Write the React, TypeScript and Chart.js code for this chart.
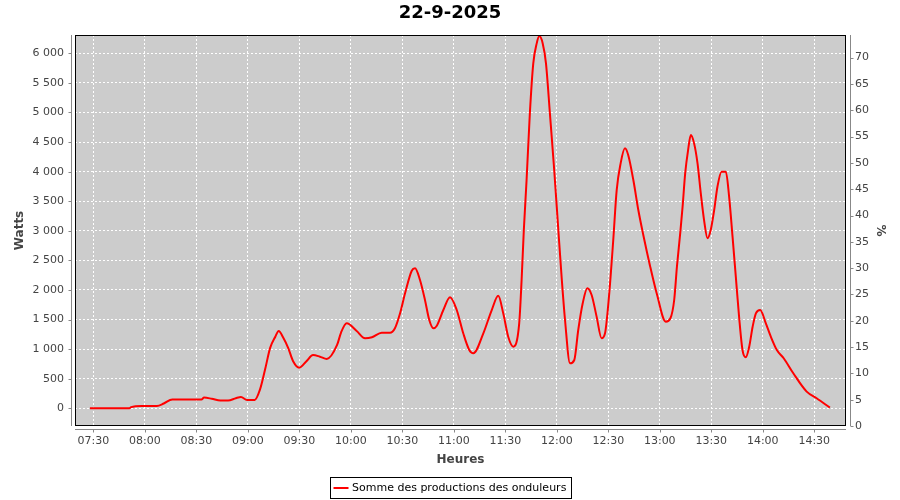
import React, { useEffect, useRef } from "react";
import { Chart, registerables } from "chart.js";

Chart.register(...registerables);

const TITLE = "22-9-2025";
const SERIES_LABEL = "Somme des productions des onduleurs";
const X_TITLE = "Heures";
const Y_TITLE = "Watts";
const Y2_TITLE = "%";

// time of day, in minutes since midnight
const timesMin = [
  448, 471, 472, 478, 487, 491, 496, 513, 514.5, 519, 524, 528.5, 533, 536, 539.5, 544,
  547, 550, 553, 556, 558, 560.5, 563.6, 566.3, 570, 574, 578, 582, 586, 592, 594.3, 597.6,
  603.4, 608.3, 612.3, 618, 622.8, 625.7, 628.7, 631.6, 635.5, 637.4, 640.3, 643.2, 645.7, 648.1,
  650, 653.9, 657.8, 661.7, 665.5, 669, 671.4, 677.2, 682.1, 685.9, 688.8, 691.7, 694.7, 698.1,
  699.5, 700.8, 702.4, 704.3, 706.3, 708.3, 709.8, 711.8, 713.7, 716, 718.5, 720.9, 722.8, 724.8,
  727.7, 730.2, 732.5, 735.1, 737.8, 740.3, 743.2, 746.1, 748.1, 750.4, 752.9, 754.9, 757.2, 759.7,
  761.6, 764.6, 767.5, 770.4, 774.3, 778.2, 783.5, 786.2, 788.4, 790, 791.9, 793.3, 794.8, 796.5,
  798.1, 800, 802, 803.9, 805.8, 807.8, 809.7, 811.7, 813.6, 816, 818.5, 820.4, 822.4, 824.3,
  826.2, 828.2, 830.1, 832.1, 834.1, 836, 838.5, 841.8, 844.7, 848.2, 852.2, 857.8, 865.6, 871.4,
  879.1,
];

const watts = [
  0, 0, 20, 40, 40, 80, 150, 150, 180, 160, 130, 130, 170, 190, 140, 140,
  310, 650, 1020, 1210, 1306, 1200, 1014, 800, 686, 790, 900, 872, 833, 1070, 1280, 1436,
  1306, 1183, 1200, 1277, 1277, 1352, 1605, 1943, 2325, 2366, 2168, 1830, 1492, 1352,
  1391, 1661, 1876, 1661, 1267, 985, 930, 1267, 1661, 1900, 1605, 1210, 1041, 1436,
  2168, 3013, 3858, 4980, 5830, 6168, 6292, 6168, 5830, 4980, 4027, 3013, 2224, 1492,
  760, 816, 1323, 1774, 2028, 1915, 1549, 1183, 1267, 1886, 2844, 3689, 4140, 4394,
  4281, 3858, 3351, 2929, 2410, 1943, 1464, 1521, 1830, 2393, 2957, 3408, 3971, 4365,
  4619, 4478, 4140, 3633, 3182, 2873, 3013, 3351, 3745, 3999, 3999, 3577, 2901, 2224,
  1549, 985, 862, 1041, 1379, 1605, 1661, 1436, 1210, 985, 845, 591, 281, 169,
  10,
];

const xTickLabels = [
  "07:30", "08:00", "08:30", "09:00", "09:30", "10:00", "10:30", "11:00",
  "11:30", "12:00", "12:30", "13:00", "13:30", "14:00", "14:30",
];
const yTickValues = [0, 500, 1000, 1500, 2000, 2500, 3000, 3500, 4000, 4500, 5000, 5500, 6000];
const y2TickValues = [0, 5, 10, 15, 20, 25, 30, 35, 40, 45, 50, 55, 60, 65, 70];

const X_MIN = 439.3;
const X_MAX = 888.5;
const Y_MIN = -300;
const Y_MAX = 6310;
const Y2_MIN = 0;
const Y2_MAX = 74.3;

const FONT = '"DejaVu Sans", sans-serif';
const TICK_COLOR = "#444444";
const AXIS_LINE = "#888888";

const parseTime = (s: string) => {
  const [h, m] = s.split(":").map(Number);
  return h * 60 + m;
};
const fmtTime = (v: number) => {
  const h = Math.floor(v / 60);
  const m = Math.round(v - h * 60);
  return String(h).padStart(2, "0") + ":" + String(m).padStart(2, "0");
};
const fmtThousands = (v: number) =>
  String(Math.round(v)).replace(/\B(?=(\d{3})+(?!\d))/g, " ");

const framePlugin = {
  id: "frame",
  beforeDraw(chart: any) {
    const { ctx, chartArea: a } = chart;
    ctx.save();
    ctx.fillStyle = "#cccccc";
    ctx.fillRect(a.left, a.top, a.right - a.left, a.bottom - a.top);
    ctx.restore();
  },
  afterDraw(chart: any) {
    const { ctx, chartArea: a, scales } = chart;
    ctx.save();
    ctx.strokeStyle = "#000000";
    ctx.lineWidth = 1;
    ctx.strokeRect(a.left + 0.5, a.top + 0.5, a.right - a.left - 1, a.bottom - a.top - 1);

    ctx.strokeStyle = AXIS_LINE;
    const seg = (x1: number, y1: number, x2: number, y2: number) => {
      ctx.beginPath();
      ctx.moveTo(x1, y1);
      ctx.lineTo(x2, y2);
      ctx.stroke();
    };
    const lx = a.left - 3.5;
    seg(lx, a.top, lx, a.bottom);
    scales.y.ticks.forEach((t: any) => {
      const py = Math.round(scales.y.getPixelForValue(t.value)) + 0.5;
      seg(lx - 3, py, lx, py);
    });
    const rx = a.right + 4.5;
    seg(rx, a.top, rx, a.bottom);
    scales.y2.ticks.forEach((t: any) => {
      const py = Math.round(scales.y2.getPixelForValue(t.value)) + 0.5;
      seg(rx, py, rx + 3, py);
    });
    const by = a.bottom + 3.5;
    seg(a.left, by, a.right, by);
    scales.x.ticks.forEach((t: any) => {
      const px = Math.round(scales.x.getPixelForValue(t.value)) + 0.5;
      seg(px, by, px, by + 3);
    });

    // legend box
    ctx.font = "11px " + FONT;
    const tw = ctx.measureText(SERIES_LABEL).width;
    const bw = Math.round(tw + 27);
    const bx = Math.round(chart.width / 2 - bw / 2) + 0.5;
    const bTop = 477.5;
    const bh = 21;
    ctx.strokeStyle = "#000000";
    ctx.strokeRect(bx, bTop, bw, bh);
    ctx.strokeStyle = "#ff0000";
    ctx.lineWidth = 2;
    seg(bx + 3, bTop + 10.5, bx + 18, bTop + 10.5);
    ctx.fillStyle = "#000000";
    ctx.textBaseline = "middle";
    ctx.textAlign = "left";
    ctx.fillText(SERIES_LABEL, bx + 21.5, bTop + 11);
    ctx.restore();
  },
};

export default function App() {
  const ref = useRef<HTMLCanvasElement | null>(null);

  useEffect(() => {
    if (!ref.current) return;
    const points = timesMin.map((t, i) => ({ x: t, y: watts[i] }));
    const chart = new Chart(ref.current, {
      type: "line",
      data: {
        datasets: [
          {
            label: SERIES_LABEL,
            data: points,
            borderColor: "#ff0000",
            backgroundColor: "#ff0000",
            borderWidth: 2,
            pointRadius: 0,
            fill: false,
            cubicInterpolationMode: "monotone",
            yAxisID: "y",
            xAxisID: "x",
          },
        ],
      },
      options: {
        responsive: false,
        animation: false,
        parsing: false as any,
        layout: { padding: { top: 0, left: 0, right: 0, bottom: 28 } },
        plugins: {
          legend: { display: false },
          tooltip: { enabled: false },
          title: {
            display: true,
            text: TITLE,
            color: "#000000",
            font: { family: FONT, size: 18, weight: "bold" },
            padding: { top: 3, bottom: 10.4 },
          },
        },
        scales: {
          x: {
            type: "linear",
            position: "bottom",
            min: X_MIN,
            max: X_MAX,
            afterFit: (s: any) => {
              s.height = 46;
            },
            afterBuildTicks: (s: any) => {
              s.ticks = xTickLabels.map((l) => ({ value: parseTime(l) }));
            },
            border: { display: false, dash: [2, 2] },
            grid: { color: "#ffffff", lineWidth: 1, drawTicks: false },
            ticks: {
              autoSkip: false,
              maxRotation: 0,
              padding: 9,
              color: TICK_COLOR,
              font: { family: FONT, size: 11 },
              callback: (v: any) => fmtTime(Number(v)),
            },
            title: {
              display: true,
              text: X_TITLE,
              color: TICK_COLOR,
              font: { family: FONT, size: 12, weight: "bold" },
              padding: { top: 0, bottom: 4.8 },
            },
          },
          y: {
            type: "linear",
            position: "left",
            min: Y_MIN,
            max: Y_MAX,
            afterFit: (s: any) => {
              s.width = 75;
            },
            afterBuildTicks: (s: any) => {
              s.ticks = yTickValues.map((v) => ({ value: v }));
            },
            border: { display: false, dash: [2, 2] },
            grid: { color: "#ffffff", lineWidth: 1, drawTicks: false },
            ticks: {
              autoSkip: false,
              padding: 11,
              color: TICK_COLOR,
              font: { family: FONT, size: 11 },
              callback: (v: any) => fmtThousands(Number(v)),
            },
            title: {
              display: true,
              text: Y_TITLE,
              color: TICK_COLOR,
              font: { family: FONT, size: 12, weight: "bold" },
              padding: { top: 12.8, bottom: 0 },
            },
          },
          y2: {
            type: "linear",
            position: "right",
            min: Y2_MIN,
            max: Y2_MAX,
            afterFit: (s: any) => {
              s.width = 54;
            },
            afterBuildTicks: (s: any) => {
              s.ticks = y2TickValues.map((v) => ({ value: v }));
            },
            border: { display: false },
            grid: { drawOnChartArea: false, drawTicks: false },
            ticks: {
              autoSkip: false,
              padding: 9,
              color: TICK_COLOR,
              font: { family: FONT, size: 11 },
            },
            title: {
              display: true,
              text: Y2_TITLE,
              color: TICK_COLOR,
              font: { family: FONT, size: 12, weight: "bold" },
              padding: { top: 12.8, bottom: 0 },
            },
          },
        },
      } as any,
      plugins: [framePlugin],
    });
    return () => chart.destroy();
  }, []);

  return (
    <div
      style={{
        position: "fixed",
        left: 0,
        top: 0,
        width: 900,
        height: 500,
        background: "#ffffff",
      }}
    >
      <canvas ref={ref} width={900} height={500} style={{ display: "block" }} />
    </div>
  );
}
